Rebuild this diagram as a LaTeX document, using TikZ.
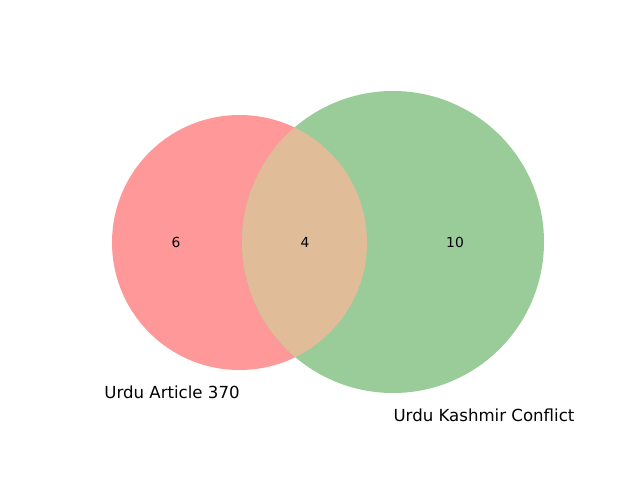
\documentclass[tikz,border=0pt]{standalone}
\usepackage{fontspec}
\setmainfont{DejaVu Sans}
\usetikzlibrary{backgrounds}
\definecolor{setA}{RGB}{255, 153, 153}
\definecolor{setB}{RGB}{153, 204, 153}
\definecolor{both}{RGB}{224, 188, 153}

\begin{document}
\begin{tikzpicture}[x=0.254mm, y=-0.254mm]
  \useasboundingbox (0, 0) rectangle (640, 480);

  % the two sets
  \fill [setA] (239.5, 242.5) circle (127.5);
  \fill [setB] (393, 242) circle (151);
  \begin{scope}
    \clip (239.5, 242.5) circle (127.5);
    \fill [both] (393, 242) circle (151);
  \end{scope}

  % subset sizes
  \node [font=\fontsize{10}{12}\selectfont] (onlyA) at (176, 242) {6};
  \node [font=\fontsize{10}{12}\selectfont] (inAB) at (305, 242) {4};
  \node [font=\fontsize{10}{12}\selectfont] (onlyB) at (455, 242) {10};

  % set names
  \node [font=\fontsize{12}{14}\selectfont] (nameA) at (172, 392) {Urdu Article 370};
  \node [font=\fontsize{12}{14}\selectfont] (nameB) at (484, 415) {Urdu Kashmir Conflict};
\end{tikzpicture}
\end{document}
